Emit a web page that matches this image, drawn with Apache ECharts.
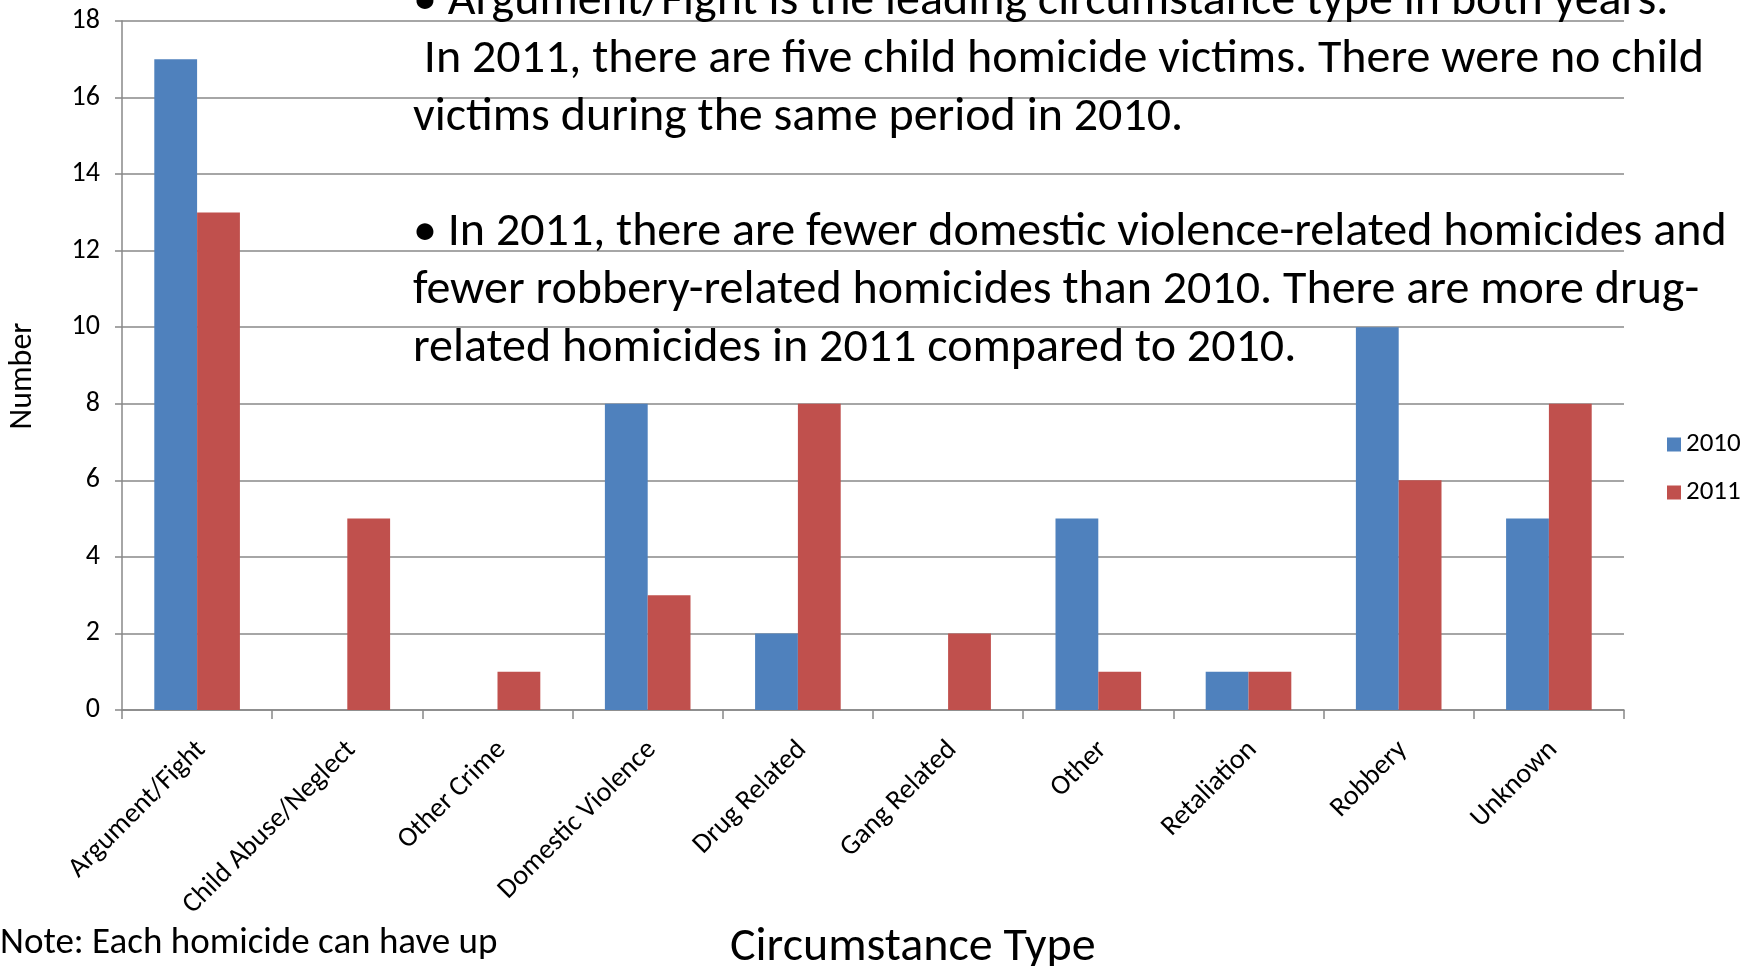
<!DOCTYPE html>
<html><head><meta charset="utf-8">
<script src="https://cdn.jsdelivr.net/npm/echarts@6/dist/echarts.min.js"></script>
<style>html,body{margin:0;padding:0;background:#fff}#c{width:1744px;height:966px}</style>
</head><body><div id="c"></div>
<script>
const categories = ['Argument/Fight','Child Abuse/Neglect','Other Crime','Domestic Violence','Drug Related','Gang Related','Other','Retaliation','Robbery','Unknown'];
const values2010 = [17, 0, 0, 8, 2, 0, 5, 1, 10, 5];
const values2011 = [13, 5, 1, 3, 8, 2, 1, 1, 6, 8];
const seriesNames = ['2010', '2011'];
const yAxisTitle = 'Number';
const xAxisTitle = 'Circumstance Type';
const footNote = 'Note: Each homicide can have up';
const noteLines = [
  '• Argument/Fight is the leading circumstance type in both years.',
  ' In 2011, there are five child homicide victims. There were no child',
  'victims during the same period in 2010.',
  '',
  '• In 2011, there are fewer domestic violence-related homicides and',
  'fewer robbery-related homicides than 2010. There are more drug-',
  'related homicides in 2011 compared to 2010.'
];

const CAL = "Carlito, 'Liberation Sans', sans-serif";
const GRAY = '#888888';

const chart = echarts.init(document.getElementById('c'));
const graphics = [];
noteLines.forEach((t, i) => {
  if (!t) return;
  graphics.push({type:'text', left: 413, top: -22 + i*57.8, z: 100,
    style:{text:t, font: '48px ' + CAL, fill:'#000'}});
});
graphics.push({type:'text', left: 0, top: 925, style:{text:footNote, font:'37px '+CAL, fill:'#000'}});
graphics.push({type:'text', left: 730, top: 924, style:{text:xAxisTitle, font:'48px '+CAL, fill:'#000'}});
graphics.push({type:'text', x: 23, y: 376, rotation: Math.PI/2,
  style:{text:yAxisTitle, font:'32px '+CAL, fill:'#000', align:'center', verticalAlign:'middle'}});

chart.setOption({
  animation:false,
  color:['#4F81BD','#C0504D'],
  grid:{left:122, right:120, top:21, bottom:256, containLabel:false, outerBoundsMode:'none'},
  legend:{orient:'vertical', left:1662, top:426, itemWidth:14, itemHeight:14, itemGap:21,
    icon:'rect', textStyle:{fontFamily:CAL, fontSize:27, color:'#000'}, data:seriesNames},
  xAxis:{type:'category', data:categories,
    axisLine:{lineStyle:{color:GRAY, width:1.5}},
    axisTick:{show:true, length:9, lineStyle:{color:GRAY, width:1.5}},
    axisLabel:{rotate:45, interval:0, margin:20, verticalAlign:'top', padding:[0,8,0,0], fontFamily:CAL, fontSize:28, color:'#000'}},
  yAxis:{type:'value', min:0, max:18, interval:2,
    axisLine:{show:true, lineStyle:{color:GRAY, width:1.5}},
    axisTick:{show:true, length:7, lineStyle:{color:GRAY, width:1.5}},
    splitLine:{lineStyle:{color:GRAY, width:1.5}},
    axisLabel:{margin:22, fontFamily:CAL, fontSize:28, color:'#000'}},
  series:[
    {name:seriesNames[0], type:'bar', data:values2010, barGap:'0%', barCategoryGap:'43%'},
    {name:seriesNames[1], type:'bar', data:values2011, barGap:'0%', barCategoryGap:'43%'}
  ],
  graphic: graphics
});
</script></body></html>
